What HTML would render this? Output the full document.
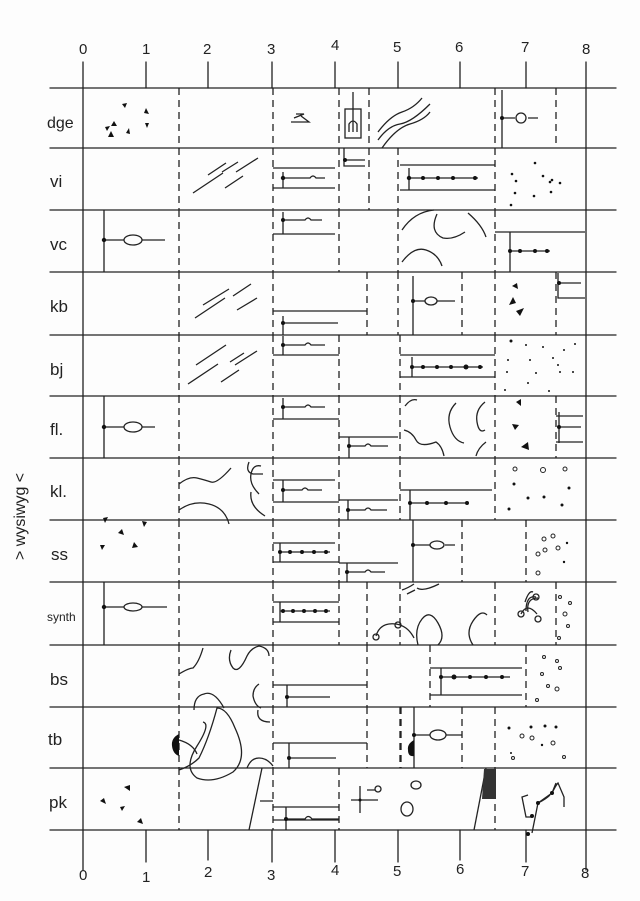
<!DOCTYPE html>
<html><head><meta charset="utf-8"><style>
html,body{margin:0;padding:0;background:#fff}
svg{display:block}
text{font-family:"Liberation Sans",sans-serif;fill:#222}
</style></head><body>
<svg width="640" height="901" viewBox="0 0 640 901" xmlns="http://www.w3.org/2000/svg">
<rect width="640" height="901" fill="#fdfdfd"/>
<g stroke="#222" stroke-width="1.3" fill="none" stroke-linecap="round">
<!-- horizontal row lines -->
<path d="M50 88H616M50 148H616M50 210H616M50 272H616M50 335H616M50 396H616M50 458H616M50 520H616M50 582H616M50 645H616M50 707H616M50 768H616M50 830H616"/>
<!-- axis verticals -->
<path d="M83 62V870M586 62V870"/>
<path d="M146 62V88M208 62V88M272 62V88M335 62V88M398 62V88M460 62V88M526 62V88"/>
<path d="M146 830V862M208 830V860M272 830V862M335 830V862M398 830V862M460 830V860M526 830V862"/>
</g>
<g font-size="15">
<text x="79" y="54">0</text><text x="142" y="54">1</text><text x="203" y="54">2</text><text x="267" y="54">3</text><text x="331" y="50">4</text><text x="393" y="52">5</text><text x="455" y="52">6</text><text x="521" y="52">7</text><text x="582" y="54">8</text>
<text x="79" y="880">0</text><text x="142" y="882">1</text><text x="204" y="877">2</text><text x="267" y="880">3</text><text x="331" y="875">4</text><text x="393" y="876">5</text><text x="456" y="874">6</text><text x="521" y="876">7</text><text x="581" y="878">8</text>
</g>
<g font-size="17">
<text x="47" y="128" font-size="16">dge</text>
<text x="50" y="187">vi</text>
<text x="50" y="250">vc</text>
<text x="50" y="312">kb</text>
<text x="50" y="375">bj</text>
<text x="50" y="435">fl.</text>
<text x="50" y="497">kl.</text>
<text x="51" y="560">ss</text>
<text x="47" y="621" font-size="12">synth</text>
<text x="50" y="685">bs</text>
<text x="48" y="745">tb</text>
<text x="49" y="808">pk</text>
</g>
<text transform="translate(25,560) rotate(-90)" font-size="16">&gt; wysiwyg &lt;</text>

<!-- dashed verticals -->
<g stroke="#222" stroke-width="1.3" fill="none" stroke-dasharray="7 5">
<!-- dge -->
<path d="M179 88V148M273 88V148M339 88V148M369 88V148M495 88V148M556 88V148"/>
<!-- vi -->
<path d="M179 148V210M273 148V210M339 148V210M369 148V210M398 148V210M495 148V210"/>
<!-- vc -->
<path d="M179 210V272M273 210V272M339 210V272M398 210V272M495 210V272"/>
<!-- kb -->
<path d="M179 272V335M273 272V335M367 272V335M398 272V335M462 272V335M495 272V335M556 272V335"/>
<!-- bj -->
<path d="M179 335V396M273 335V396M339 335V396M400 335V396M495 335V396"/>
<!-- fl -->
<path d="M179 396V458M273 396V458M339 396V458M400 396V458M495 396V458M556 396V458"/>
<!-- kl -->
<path d="M179 458V520M273 458V520M339 458V520M400 458V520M495 458V520"/>
<!-- ss -->
<path d="M179 520V582M273 520V582M339 520V582M462 520V582M526 520V582"/>
<!-- synth -->
<path d="M179 582V645M273 582V645M339 582V645M367 582V645M400 582V645M495 582V645M556 582V645"/>
<!-- bs -->
<path d="M179 645V707M273 645V707M367 645V707M430 645V707M526 645V707"/>
<!-- tb -->
<path d="M179 707V768M273 707V768M367 707V768M400 707V768M462 707V768M495 707V768"/>
<!-- pk -->
<path d="M179 768V830M273 768V830M339 768V830M495 768V830"/>
</g>

<g stroke="#222" stroke-width="1.3" fill="none">
<!-- dge -->
<path d="M294 118l10-4-8 0M291 122h18l-8-6"/>
<rect x="345" y="109" width="16" height="29"/>
<path d="M353 92V132M349 132v-8q4-6 8 0v8M353 124v8"/>
<path d="M378 140q10-14 22-16t30-20M382 148q14-20 28-24t20-12M378 132q12-16 24-20t20-14"/>
<path d="M502 90V148M503 118H515M528 118H538"/>
<circle cx="521" cy="118" r="5"/>
<!-- vi diag arrows -->
<path d="M208 175l18-12M222 172l16-10M236 172l22-14M193 193l30-20M225 188l18-12"/>
<!-- vi bracket -->
<path d="M273 168H335M273 188H335M283 172V188M283 178H310q3-4 6 0H325"/>
<path d="M344 148V166H365M345 160H365"/>
<path d="M400 165H495M400 190H495M409 168V190M409 178H478"/>
<!-- vc -->
<path d="M104 210V272M104 240H124M142 240H165"/>
<ellipse cx="133" cy="240" rx="9" ry="5"/>
<path d="M283 212V234M283 220H305q3-4 6 0H322M273 234H335"/>
<path d="M402 230q12-18 32-20M402 262q12-16 24-12t16 16M437 214q-8 18 6 24q10 2 22-6M468 213q14 12 18 24"/>
<path d="M495 232H585M510 232V272M510 251H550"/>
<!-- kb -->
<path d="M203 305l26-16M233 296l18-12M195 318l30-20M237 310l20-12"/>
<path d="M273 311H367M283 316V335M283 323H338"/>
<path d="M413 276V335M413 301H425M437 301H455"/>
<ellipse cx="431" cy="301" rx="6" ry="4"/>
<path d="M558 273V298H585M558 283H581"/>
<!-- bj -->
<path d="M196 365l30-20M230 362l14-9M235 365l22-14M188 384l30-20M221 382l18-12"/>
<path d="M283 336V355M283 345H305q3-4 6 0H325M273 355H339"/>
<path d="M400 355H495M400 377H495M412 357V377M412 367H483"/>
<!-- fl -->
<path d="M104 396V458M104 427H124M142 427H155"/>
<ellipse cx="133" cy="427" rx="9" ry="5"/>
<path d="M283 398V419M283 407H305q3-4 6 0H325M273 419H339"/>
<path d="M339 437H398M349 437V458M349 446H365q3-4 6 0H388"/>
<path d="M405 406q6-8 12-6M404 430q8 2 12 10t20 2q6 4 8 14M456 403q-10 10-6 24t14 16M485 402q-10 8-8 20t8 8M486 442q-8 6-10 14"/>
<path d="M559 412V443M556 416H583M559 427H581M556 442H583"/>
<!-- kl -->
<path d="M179 484q10-8 18-6t14 4t20-14M249 462q-4 10 4 12h10M179 510q14-10 30-6t20 20M261 466q-8-2-10 8t8 20M251 492q-2 14 14 24"/>
<path d="M273 480H335M283 480V502M283 490H302q3-4 6 0H322M273 502H339"/>
<path d="M339 500H398M348 500V520M348 510H365q3-4 6 0H387"/>
<path d="M400 490H492M410 490V520M410 503H467"/>
<!-- ss -->
<path d="M273 543H335M280 543V562M280 552H330M273 562H339"/>
<path d="M339 563H398M347 563V582M347 572H365q3-4 6 0H385"/>
<path d="M413 520V582M413 545H430M445 545H455"/>
<ellipse cx="437" cy="545" rx="7" ry="4"/>
<!-- synth -->
<path d="M104 582V645M104 607H124M142 607H167"/>
<ellipse cx="133" cy="607" rx="9" ry="4"/>
<path d="M273 602H339M273 622H339M280 602V622M280 611H330"/>
<path d="M376 636q4-14 20-12q12 2 18 14M402 590q6-2 12-6M407 594q8-4 8-4M417 588q6 4 22-4M418 645q-4-16 4-26t16 4t0 22M473 645q-8-12 0-24t14-6M528 612q-2-14 10-14M525 602q4-12 8-10"/>
<circle cx="376" cy="637" r="3"/><circle cx="398" cy="625" r="3"/>
<circle cx="536" cy="597" r="3"/><circle cx="521" cy="614" r="3"/><circle cx="538" cy="619" r="3"/>
<path d="M521 614q6-12 16 0M536 597q-10-2-10 14"/>
<!-- bs -->
<path d="M179 674q10-6 14-6q6-6 10-20M231 650q-4 10 2 18q6 6 14-12q4-8 12-10q10 2 10 10M259 684q-6 4-6 12q2 10 8 12M194 710q0-14 10-16q10-4 20 14"/>
<path d="M273 685H367M287 685V707M287 697H330"/>
<path d="M430 668H522M430 695H522M441 668V695M441 677H510"/>
<!-- tb -->
<path d="M179 740q14 4 18 14M179 770q12-4 20-12q10-20 18-50q10 0 18 20q14 30-2 44q-20 12-36 6q-14-10 0-32t6-24M258 710q-2 12 12 12M247 768q4-10 12-10t14 8"/>
<path d="M273 743H367M289 743V768M289 758H336"/>
<path d="M414 707V768M414 735H430M446 735H462"/>
<ellipse cx="438" cy="735" rx="8" ry="5"/>
<path d="M401 707V768" stroke-dasharray="7 5"/>
<!-- pk -->
<path d="M249 830L262 768M260 801H273"/>
<path d="M273 807H339M273 820H339M286 807V830M286 819H305q3-5 7 0H339"/>
<path d="M351 800H378M360 786V813M367 790h8"/>
<circle cx="378" cy="789" r="3"/>
<ellipse cx="407" cy="809" rx="6" ry="7"/><ellipse cx="416" cy="785" rx="5" ry="4"/>
<path d="M474 830L486 768"/>
<path d="M528 795l-6 2l4 20h6M532 833l6-30q8-4 12-8M538 803l14-10q4-8 6-10l6 14v10M552 793l4 -10"/>
</g>

<!-- filled bits -->
<g fill="#111">
<path d="M105 127l5-1l-3 5zM114 121l3 5h-6zM122 104l5-1l-2 5zM146 108l3 6l-5-1zM145 123l4 0l-2 5zM108 137l3-6l3 6zM126 133l3-5l1 6z"/>
<path d="M512 286l5-3l1 6zM509 305l4-8l3 6zM516 311l8-3l-4 8z"/>
<path d="M516 402l5-3l0 7zM512 424l7 1l-4 5zM521 447l7-5l1 8z"/>
<path d="M103 518l5-1l-3 6zM118 533l4-4l2 6zM142 521l5 1l-3 5zM100 545l5 0l-3 5zM132 548l2-6l4 5z"/>
<path d="M124 787l6-2l0 6zM100 801l4-3l2 6zM120 807l5-1l-3 5zM137 822l4-4l2 6z"/>
<path d="M179 734q-8 4-7 12q1 8 7 10z"/>
<path d="M414 740q-7 4-6 10q0 7 6 6z"/>
<path d="M484 769h12v30h-14z" fill="#333"/>
<!-- dots on chains -->
<circle cx="283" cy="178" r="2.2"/><circle cx="345" cy="160" r="2"/>
<circle cx="409" cy="178" r="2.2"/><circle cx="423" cy="178" r="2"/><circle cx="438" cy="178" r="2"/><circle cx="453" cy="178" r="2"/><circle cx="475" cy="178" r="2"/>
<circle cx="104" cy="240" r="2.2"/><circle cx="283" cy="220" r="2"/>
<circle cx="510" cy="251" r="2"/><circle cx="520" cy="251" r="2"/><circle cx="535" cy="251" r="2"/><circle cx="547" cy="251" r="2"/>
<circle cx="283" cy="323" r="2"/><circle cx="413" cy="301" r="2"/><circle cx="559" cy="283" r="2"/>
<circle cx="283" cy="345" r="2"/>
<circle cx="412" cy="367" r="2"/><circle cx="423" cy="367" r="2"/><circle cx="437" cy="367" r="2"/><circle cx="451" cy="367" r="2"/><circle cx="466" cy="367" r="2.5"/><circle cx="480" cy="367" r="2"/>
<circle cx="104" cy="427" r="2.2"/><circle cx="283" cy="407" r="2"/><circle cx="349" cy="446" r="2"/><circle cx="559" cy="427" r="2"/>
<circle cx="283" cy="490" r="2"/><circle cx="348" cy="510" r="2"/>
<circle cx="410" cy="503" r="2"/><circle cx="427" cy="503" r="2"/><circle cx="446" cy="503" r="2"/><circle cx="467" cy="503" r="2"/>
<circle cx="280" cy="552" r="2"/><circle cx="290" cy="552" r="2"/><circle cx="302" cy="552" r="2"/><circle cx="314" cy="552" r="2"/><circle cx="326" cy="552" r="2"/>
<circle cx="347" cy="572" r="2"/><circle cx="413" cy="545" r="2"/>
<circle cx="104" cy="607" r="2.2"/>
<circle cx="283" cy="611" r="2"/><circle cx="293" cy="611" r="2"/><circle cx="304" cy="611" r="2"/><circle cx="315" cy="611" r="2"/><circle cx="326" cy="611" r="2"/>
<circle cx="287" cy="697" r="2"/>
<circle cx="441" cy="677" r="2"/><circle cx="454" cy="677" r="2.5"/><circle cx="470" cy="677" r="2"/><circle cx="486" cy="677" r="2"/><circle cx="502" cy="677" r="2"/>
<circle cx="289" cy="758" r="2"/><circle cx="414" cy="735" r="2"/><circle cx="286" cy="819" r="2"/><circle cx="360" cy="800" r="1.5"/>
<circle cx="532" cy="816" r="2"/><circle cx="538" cy="803" r="2"/><circle cx="528" cy="834" r="2"/><circle cx="552" cy="793" r="2"/>
<circle cx="502" cy="118" r="2"/>
<!-- speckle dots -->
<circle cx="512" cy="174" r="1.3"/><circle cx="543" cy="176" r="1.3"/><circle cx="552" cy="180" r="1.3"/><circle cx="515" cy="193" r="1.3"/><circle cx="534" cy="196" r="1.3"/><circle cx="550" cy="182" r="1.3"/><circle cx="535" cy="163" r="1.3"/><circle cx="560" cy="183" r="1.3"/><circle cx="511" cy="205" r="1.3"/><circle cx="516" cy="181" r="1.3"/><circle cx="551" cy="192" r="1.3"/>
<circle cx="511" cy="341" r="1.5"/><circle cx="526" cy="345" r="1"/><circle cx="543" cy="347" r="1"/><circle cx="564" cy="350" r="1"/><circle cx="575" cy="344" r="1"/><circle cx="508" cy="360" r="1"/><circle cx="530" cy="360" r="1"/><circle cx="553" cy="358" r="1"/><circle cx="507" cy="372" r="1"/><circle cx="536" cy="373" r="1"/><circle cx="560" cy="372" r="1"/><circle cx="573" cy="372" r="1"/><circle cx="528" cy="383" r="1"/><circle cx="505" cy="390" r="1"/><circle cx="549" cy="391" r="1"/><circle cx="558" cy="365" r="1"/>
<circle cx="514" cy="484" r="1.5"/><circle cx="569" cy="488" r="1.5"/><circle cx="528" cy="498" r="1.5"/><circle cx="544" cy="497" r="1.5"/><circle cx="509" cy="509" r="1.5"/><circle cx="562" cy="505" r="1.5"/>
<circle cx="567" cy="543" r="1.2"/><circle cx="564" cy="562" r="1.2"/>
<circle cx="531" cy="727" r="1.5"/><circle cx="545" cy="726" r="1.5"/><circle cx="556" cy="727" r="1.5"/><circle cx="509" cy="728" r="1.5"/><circle cx="542" cy="745" r="1.2"/><circle cx="511" cy="753" r="1"/>
</g>
<g fill="none" stroke="#222" stroke-width="1">
<circle cx="515" cy="469" r="2"/><circle cx="543" cy="470" r="2.5"/><circle cx="565" cy="469" r="2"/>
<circle cx="544" cy="539" r="2"/><circle cx="553" cy="536" r="2"/><circle cx="545" cy="550" r="2"/><circle cx="558" cy="548" r="2"/><circle cx="538" cy="554" r="2"/><circle cx="538" cy="573" r="2"/>
<circle cx="560" cy="597" r="1.5"/><circle cx="570" cy="603" r="1.5"/><circle cx="565" cy="614" r="2"/><circle cx="568" cy="626" r="1.5"/><circle cx="559" cy="638" r="1.5"/>
<circle cx="557" cy="661" r="1.5"/><circle cx="544" cy="657" r="1.5"/><circle cx="560" cy="668" r="1.5"/><circle cx="542" cy="674" r="1.5"/><circle cx="557" cy="689" r="2"/><circle cx="548" cy="686" r="1.5"/><circle cx="537" cy="700" r="1.5"/>
<circle cx="532" cy="738" r="2"/><circle cx="553" cy="743" r="2"/><circle cx="522" cy="736" r="2"/><circle cx="513" cy="758" r="1.5"/><circle cx="564" cy="757" r="1.5"/>
</g>
</svg>
</body></html>
